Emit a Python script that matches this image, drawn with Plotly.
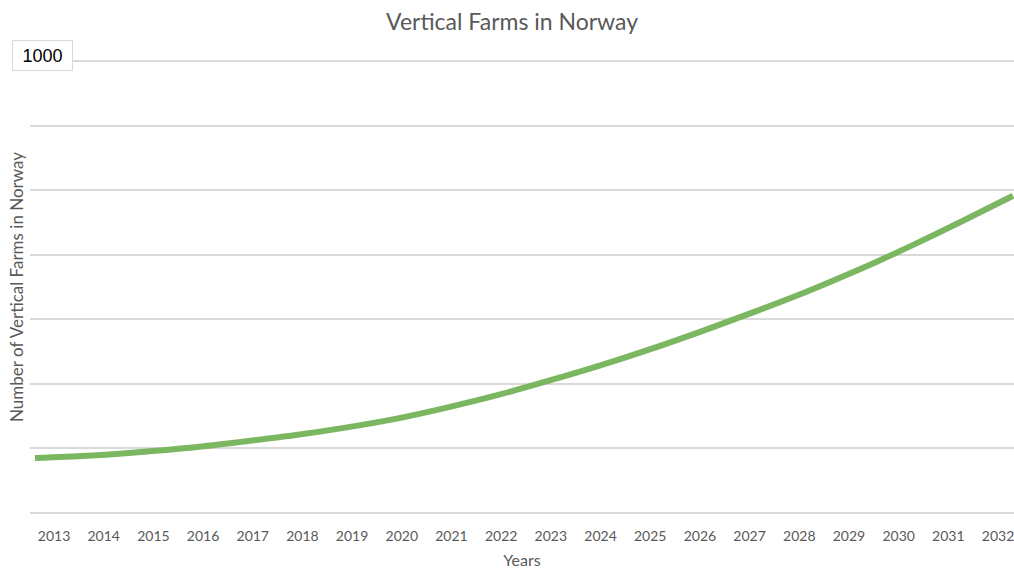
import plotly.graph_objects as go

years = list(range(2013, 2033))
farms = [121, 126, 134, 144, 157, 171, 188, 208, 233, 261,
         293, 327, 364, 404, 446, 490, 538, 590, 645, 702]
tick_labels = [str(y) for y in years]

title_text = "Vertical Farms in Norway"
x_title = "Years"
y_title = "Number of Vertical Farms in Norway"
box_label = "1000"

FONT = "Lato"
GREY = "#595959"
GRID = "#d9d9d9"
GREEN = "#7bb661"

fig = go.Figure()

# invisible trace that anchors the label axis
fig.add_trace(go.Scatter(x=years, y=farms, xaxis="x", yaxis="y",
                         mode="lines", line=dict(width=0), opacity=0,
                         hoverinfo="skip", showlegend=False))

# data line
fig.add_trace(go.Scatter(x=years, y=farms, xaxis="x2", yaxis="y",
                         mode="lines",
                         line=dict(color=GREEN, width=6, shape="spline", smoothing=0.8),
                         showlegend=False, name="Vertical farms"))

fig.update_layout(
    width=1014, height=569,
    margin=dict(l=30, r=0, t=59, b=54, autoexpand=False),
    paper_bgcolor="white", plot_bgcolor="white",
    font=dict(family=FONT, color=GREY),
    title=dict(text=title_text, x=0.505, xanchor="center", y=0.962, yanchor="middle",
               font=dict(family=FONT, size=23, color=GREY)),
    xaxis=dict(range=[2012.517, 2032.322], tickvals=years, ticktext=tick_labels,
               showgrid=False, zeroline=False, showline=False, automargin=False,
               ticks="outside", ticklen=8, tickcolor="rgba(0,0,0,0)",
               ticklabeloverflow="allow",
               tickfont=dict(family=FONT, size=14, color=GREY),
               title=dict(text=x_title, font=dict(family=FONT, size=16, color=GREY), standoff=17)),
    xaxis2=dict(range=[2012.903, 2032.019], overlaying="x", side="bottom",
                showticklabels=False, showgrid=False, zeroline=False, showline=False,
                ticks="", automargin=False),
    yaxis=dict(range=[-5, 1005], tick0=0, dtick=1000 / 7, showticklabels=False,
               showgrid=True, gridcolor=GRID, gridwidth=1.5, zeroline=False, showline=False,
               ticks="", automargin=False,
               title=dict(text=y_title, font=dict(family=FONT, size=17, color=GREY), standoff=1)),
    annotations=[dict(text=box_label, xref="paper", yref="paper",
                      x=0.0127, y=1.0075, xanchor="center", yanchor="middle",
                      showarrow=False, font=dict(family="Liberation Sans", size=18, color="black"),
                      bordercolor=GRID, borderwidth=1, borderpad=1,
                      width=57, height=27, bgcolor="white")],
)

fig.write_html("out.html")
